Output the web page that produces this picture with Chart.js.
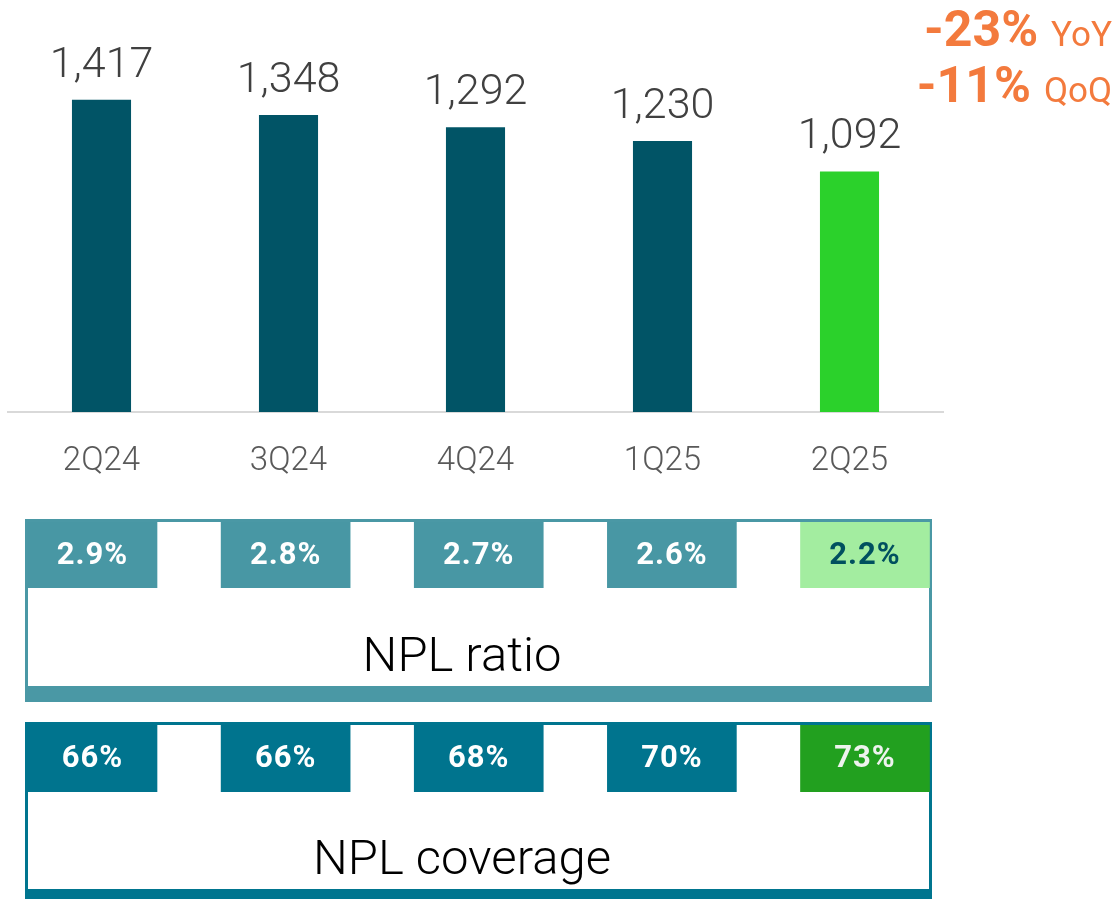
<!DOCTYPE html>
<html>
<head>
<meta charset="utf-8">
<script src="https://cdn.jsdelivr.net/npm/chart.js@4.4.1/dist/chart.umd.min.js"></script>
<style>
  html, body { margin:0; padding:0; background:#ffffff; }
  #wrap { position:relative; width:1120px; height:899px; overflow:hidden; font-family: Roboto, "Noto Sans", sans-serif; }
  #main { position:absolute; left:0; top:0; }
  .box { position:absolute; left:25px; width:901px; height:164px; border-style:solid; border-width:3px 3px 16px 3px; }
  #box1 { top:519px; border-color:#4A98A5; }
  #box2 { top:722px; border-color:#00758F; border-bottom-width:12px; }
  .title { position:absolute; left:0; width:868px; top:107px; line-height:52px; font-size:49px; font-weight:300; color:#000; text-align:center; white-space:nowrap; }
  .cells { position:absolute; left:25px; }
  #cells1 { top:522px; }
  #cells2 { top:725px; }
</style>
</head>
<body>
<div id="wrap">
  <canvas id="main" width="1120" height="530"></canvas>
  <div class="box" id="box1"><div class="title">NPL ratio</div></div>
  <div class="box" id="box2"><div class="title">NPL coverage</div></div>
  <canvas class="cells" id="cells1" width="907" height="66"></canvas>
  <canvas class="cells" id="cells2" width="907" height="67"></canvas>
</div>
<script>
// ---- data ----
const quarters    = ['2Q24', '3Q24', '4Q24', '1Q25', '2Q25'];
const nplStock    = [1417, 1348, 1292, 1230, 1092];
const nplRatio    = [2.9, 2.8, 2.7, 2.6, 2.2];
const nplCoverage = [66, 66, 68, 70, 73];
const yoyChange   = -23;
const qoqChange   = -11;

// ---- styles ----
const barColors   = ['#015466', '#015466', '#015466', '#015466', '#2BD12B'];
const ratioFill   = ['#4897A4', '#4897A4', '#4897A4', '#4897A4', '#A3EDA0'];
const ratioText   = ['#FFFFFF', '#FFFFFF', '#FFFFFF', '#FFFFFF', '#00505F'];
const covFill     = ['#00748E', '#00748E', '#00748E', '#00748E', '#22A01F'];
const covText     = ['#FFFFFF', '#FFFFFF', '#FFFFFF', '#FFFFFF', '#EEF3EE'];
const orange      = '#F37A3D';

const fmtInt = v => v.toLocaleString('en-US');

const valueLabels = {
  id: 'valueLabels',
  afterDatasetsDraw(chart) {
    const ctx = chart.ctx;
    const meta = chart.getDatasetMeta(0);
    ctx.save();
    ctx.font = '300 43px Roboto';
    ctx.fillStyle = '#404040';
    ctx.textAlign = 'center';
    ctx.textBaseline = 'alphabetic';
    meta.data.forEach((bar, i) => {
      ctx.fillText(fmtInt(nplStock[i]), bar.x, bar.y - 23);
    });
    ctx.restore();
  }
};

const changeNotes = {
  id: 'changeNotes',
  afterDraw(chart) {
    const ctx = chart.ctx;
    const rightX = 1112;
    const rows = [
      { big: yoyChange + '%', small: 'YoY', y: 46 },
      { big: qoqChange + '%', small: 'QoQ', y: 102 }
    ];
    ctx.save();
    ctx.fillStyle = orange;
    ctx.textBaseline = 'alphabetic';
    ctx.textAlign = 'left';
    rows.forEach(r => {
      ctx.font = '400 35px Roboto';
      const ws = ctx.measureText(r.small).width;
      ctx.font = '700 50px Roboto';
      const wb = ctx.measureText(r.big).width;
      const gap = 13;
      const x0 = rightX - ws - gap - wb;
      ctx.fillText(r.big, x0, r.y);
      ctx.font = '400 35px Roboto';
      ctx.fillText(r.small, x0 + wb + gap, r.y);
    });
    ctx.restore();
  }
};

new Chart(document.getElementById('main'), {
  type: 'bar',
  data: {
    labels: quarters,
    datasets: [{
      data: nplStock,
      backgroundColor: barColors,
      categoryPercentage: 1,
      barPercentage: 0.316
    }]
  },
  options: {
    responsive: false,
    animation: false,
    layout: { padding: { left: 8, right: 177, top: 0, bottom: 18.4 } },
    plugins: { legend: { display: false }, tooltip: { enabled: false } },
    scales: {
      x: {
        grid: { display: false, drawTicks: false },
        border: { display: true, color: '#D9D9D9', width: 2 },
        ticks: { color: '#595959', font: { family: 'Roboto', size: 33, weight: '300' }, padding: 30 }
      },
      y: { display: false, min: 0, max: 1870 }
    }
  },
  plugins: [valueLabels, changeNotes]
});

const cellLabels = {
  id: 'cellLabels',
  afterDatasetsDraw(chart, args, opts) {
    const ctx = chart.ctx;
    const area = chart.chartArea;
    const meta = chart.getDatasetMeta(0);
    ctx.save();
    ctx.font = '700 31px Roboto';
    if ('letterSpacing' in ctx) ctx.letterSpacing = '1px';
    ctx.textAlign = 'center';
    ctx.textBaseline = 'middle';
    meta.data.forEach((bar, i) => {
      ctx.fillStyle = opts.colors[i];
      ctx.fillText(opts.texts[i], bar.x, (area.top + area.bottom) / 2 + 1);
    });
    ctx.restore();
  }
};

function makeCells(id, values, texts, fills, textColors) {
  new Chart(document.getElementById(id), {
    type: 'bar',
    data: {
      labels: quarters,
      datasets: [{
        data: values,
        backgroundColor: fills,
        barThickness: 129,
        clip: { left: 80, right: 80, top: 0, bottom: 0 }
      }]
    },
    options: {
      responsive: false,
      animation: false,
      layout: { padding: { left: 67.5, right: 67, top: 0, bottom: 0 } },
      plugins: { legend: { display: false }, tooltip: { enabled: false }, cellLabels: { texts: texts, colors: textColors } },
      scales: {
        x: { display: false, offset: false },
        y: { display: false, min: 0, max: 1 }
      }
    },
    plugins: [cellLabels]
  });
}

makeCells('cells1', nplRatio, nplRatio.map(v => v.toFixed(1) + '%'), ratioFill, ratioText);
makeCells('cells2', nplCoverage, nplCoverage.map(v => v + '%'), covFill, covText);
</script>
</body>
</html>
